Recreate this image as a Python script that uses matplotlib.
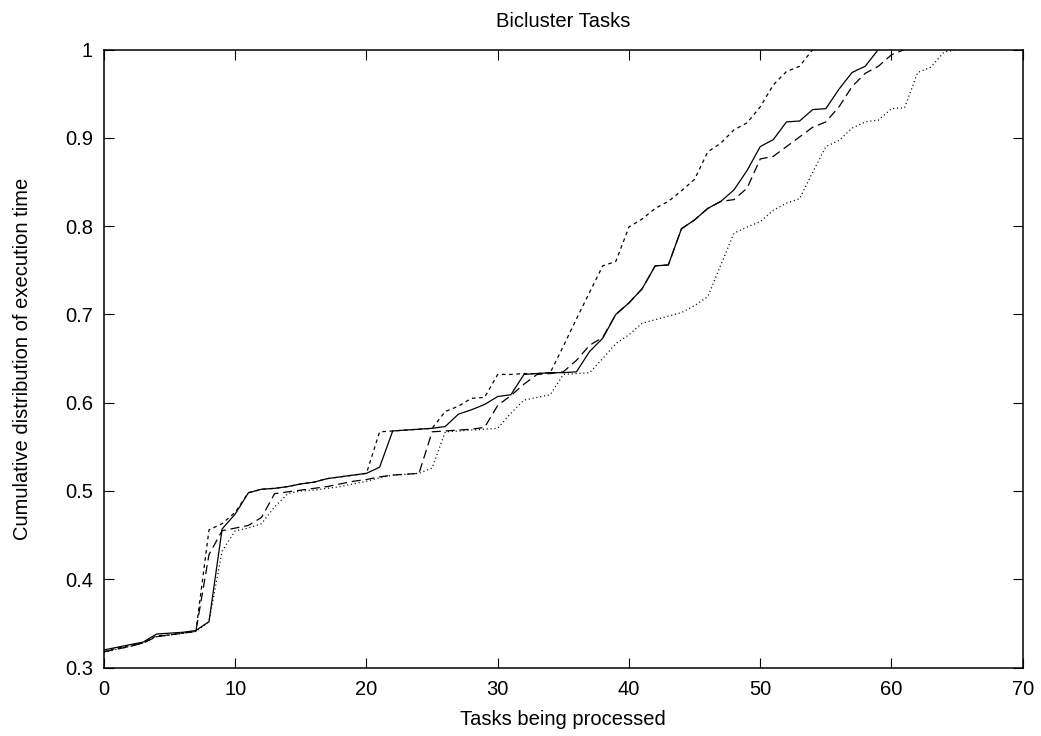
import matplotlib
matplotlib.use("Agg")
import matplotlib.pyplot as plt

plt.rcParams['font.family'] = ['Liberation Sans', 'DejaVu Sans']
plt.rcParams['lines.scale_dashes'] = False

title = "Bicluster Tasks"
xlabel = "Tasks being processed"
ylabel = "Cumulative distribution of execution time"

solid = [0.320, 0.323, 0.326, 0.329, 0.338, 0.339, 0.340, 0.342, 0.352, 0.457,
         0.474, 0.498, 0.502, 0.503, 0.505, 0.508, 0.510, 0.514, 0.516, 0.518,
         0.520, 0.527, 0.568, 0.569, 0.570, 0.571, 0.573, 0.587, 0.592, 0.598,
         0.607, 0.609, 0.632, 0.633, 0.634, 0.634, 0.635, 0.658, 0.673, 0.700,
         0.713, 0.729, 0.755, 0.756, 0.797, 0.807, 0.820, 0.828, 0.841, 0.863,
         0.890, 0.898, 0.918, 0.919, 0.932, 0.933, 0.955, 0.974, 0.981, 1.000]

short_dash = [0.318, 0.322, 0.325, 0.328, 0.336, 0.337, 0.339, 0.341, 0.456, 0.463,
              0.476, 0.498, 0.502, 0.503, 0.505, 0.508, 0.510, 0.514, 0.516, 0.518,
              0.520, 0.567, 0.568, 0.569, 0.570, 0.571, 0.590, 0.596, 0.605, 0.606,
              0.632, 0.632, 0.633, 0.633, 0.634, 0.664, 0.695, 0.725, 0.755, 0.760,
              0.799, 0.808, 0.820, 0.828, 0.840, 0.853, 0.884, 0.894, 0.909, 0.917,
              0.935, 0.960, 0.975, 0.981, 1.000]

long_dash = [0.318, 0.321, 0.324, 0.328, 0.335, 0.337, 0.339, 0.341, 0.428, 0.455,
             0.458, 0.461, 0.470, 0.497, 0.499, 0.501, 0.503, 0.505, 0.508, 0.511,
             0.513, 0.516, 0.518, 0.519, 0.520, 0.567, 0.568, 0.569, 0.570, 0.572,
             0.597, 0.608, 0.621, 0.632, 0.633, 0.635, 0.648, 0.665, 0.674, 0.700,
             0.713, 0.729, 0.755, 0.756, 0.797, 0.807, 0.820, 0.828, 0.830, 0.843,
             0.876, 0.879, 0.890, 0.901, 0.912, 0.918, 0.935, 0.958, 0.973, 0.981,
             0.994, 1.000]

dotted = [0.317, 0.321, 0.324, 0.328, 0.335, 0.337, 0.339, 0.341, 0.352, 0.432,
          0.455, 0.458, 0.463, 0.482, 0.497, 0.500, 0.501, 0.503, 0.505, 0.508,
          0.511, 0.515, 0.518, 0.519, 0.520, 0.526, 0.567, 0.568, 0.569, 0.570,
          0.571, 0.588, 0.603, 0.606, 0.609, 0.632, 0.633, 0.634, 0.650, 0.667,
          0.677, 0.690, 0.694, 0.698, 0.702, 0.710, 0.720, 0.756, 0.792, 0.799,
          0.805, 0.818, 0.826, 0.831, 0.861, 0.890, 0.897, 0.911, 0.918, 0.920,
          0.933, 0.934, 0.974, 0.980, 0.997, 1.000]

xticks = [0, 10, 20, 30, 40, 50, 60, 70]
yticks = [0.3, 0.4, 0.5, 0.6, 0.7, 0.8, 0.9, 1.0]
ytick_labels = ["0.3", "0.4", "0.5", "0.6", "0.7", "0.8", "0.9", "1"]

fig = plt.figure(figsize=(10.41, 7.36), dpi=100)
ax = fig.add_axes([104 / 1041, 1 - 667.6 / 736, (1022.7 - 104) / 1041, (667.6 - 49.5) / 736])

lw = 0.9
ax.plot(range(len(solid)), solid, color='black', lw=lw, linestyle='-')
ax.plot(range(len(long_dash)), long_dash, color='black', lw=lw, linestyle=(0, (6.5, 3.5)))
ax.plot(range(len(short_dash)), short_dash, color='black', lw=lw, linestyle=(0, (2.6, 2.6)))
ax.plot(range(len(dotted)), dotted, color='black', lw=lw, linestyle=(0, (0.8, 2.0)))

ax.set_xlim(0, 70)
ax.set_ylim(0.3, 1.0)
ax.set_xticks(xticks)
ax.set_xticklabels([str(t) for t in xticks])
ax.set_yticks(yticks)
ax.set_yticklabels(ytick_labels)

fs = 14.5
ax.tick_params(direction='in', length=7.2, width=0.8, top=True, right=True,
               labelsize=fs, colors='black')
ax.tick_params(axis='x', pad=9)
ax.tick_params(axis='y', pad=8)
for s in ax.spines.values():
    s.set_linewidth(1.1)
    s.set_color('black')

ax.set_title(title, fontsize=fs, pad=16)
ax.set_xlabel(xlabel, fontsize=fs, labelpad=8)
ax.set_ylabel(ylabel, fontsize=fs, labelpad=24)

fig.savefig("out.png", dpi=100)
